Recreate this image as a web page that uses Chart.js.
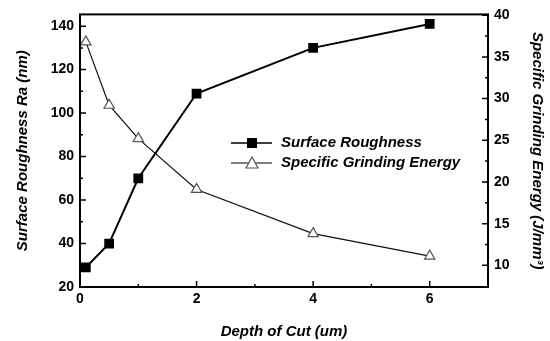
<!DOCTYPE html>
<html>
<head>
<meta charset="utf-8">
<script src="https://cdn.jsdelivr.net/npm/chart.js@4.4.0/dist/chart.umd.min.js"></script>
<style>
  html, body { margin: 0; padding: 0; background: #fff; }
  #wrap { width: 550px; height: 341px; }
</style>
</head>
<body>
<div id="wrap"><canvas id="chart" width="550" height="341"></canvas></div>
<script>
// data
const depthOfCut = [0.1, 0.5, 1, 2, 4, 6];
const roughness = [29, 40, 70, 109, 130, 141];
const grindingEnergy = [36.8, 29.2, 25.2, 19.1, 13.8, 11.1];

const xTicks = [0, 2, 4, 6];
const xMinorTicks = [1, 3, 5];
const leftTicks = [20, 40, 60, 80, 100, 120, 140];
const leftMinorTicks = [30, 50, 70, 90, 110, 130];
const rightTicks = [10, 15, 20, 25, 30, 35, 40];
const rightMinorTicks = [12.5, 17.5, 22.5, 27.5, 32.5, 37.5];

const tickFont = { family: 'Liberation Sans, Arial, sans-serif', size: 14, weight: 'bold' };
const titleFont = { family: 'Liberation Sans, Arial, sans-serif', size: 15, weight: 'bold', style: 'italic' };

// box around the plot, inward ticks and the legend
const framePlugin = {
  id: 'frame',
  afterDatasetsDraw(chart) {
    const ctx = chart.ctx;
    const a = chart.chartArea;
    const sx = chart.scales.x, sl = chart.scales.yL, sr = chart.scales.yR;
    ctx.save();
    ctx.strokeStyle = '#000';
    ctx.lineWidth = 2;
    ctx.strokeRect(a.left, a.top, a.right - a.left, a.bottom - a.top);

    ctx.lineWidth = 1.5;
    ctx.beginPath();
    xTicks.forEach(v => { const p = sx.getPixelForValue(v); ctx.moveTo(p, a.bottom); ctx.lineTo(p, a.bottom - 6); });
    xMinorTicks.forEach(v => { const p = sx.getPixelForValue(v); ctx.moveTo(p, a.bottom); ctx.lineTo(p, a.bottom - 3); });
    leftTicks.forEach(v => { const p = sl.getPixelForValue(v); ctx.moveTo(a.left, p); ctx.lineTo(a.left + 6, p); });
    leftMinorTicks.forEach(v => { const p = sl.getPixelForValue(v); ctx.moveTo(a.left, p); ctx.lineTo(a.left + 3, p); });
    rightTicks.forEach(v => { const p = sr.getPixelForValue(v); ctx.moveTo(a.right, p); ctx.lineTo(a.right - 6, p); });
    rightMinorTicks.forEach(v => { const p = sr.getPixelForValue(v); ctx.moveTo(a.right, p); ctx.lineTo(a.right - 3, p); });
    ctx.stroke();

    // legend
    const rows = [
      { y: 143, text: 'Surface Roughness', ds: 0 },
      { y: 163, text: 'Specific Grinding Energy', ds: 1 }
    ];
    ctx.font = 'italic bold 15px "Liberation Sans", Arial, sans-serif';
    ctx.textBaseline = 'middle';
    rows.forEach(r => {
      ctx.strokeStyle = '#000';
      ctx.lineWidth = r.ds === 0 ? 1.5 : 1;
      ctx.beginPath();
      ctx.moveTo(231, r.y);
      ctx.lineTo(272, r.y);
      ctx.stroke();
      if (r.ds === 0) {
        ctx.fillStyle = '#000';
        ctx.fillRect(247, r.y - 5, 10, 10);
      } else {
        ctx.fillStyle = '#fff';
        ctx.strokeStyle = '#555';
        ctx.lineWidth = 1.2;
        ctx.beginPath();
        ctx.moveTo(252, r.y - 6);
        ctx.lineTo(258, r.y + 5);
        ctx.lineTo(246, r.y + 5);
        ctx.closePath();
        ctx.fill();
        ctx.stroke();
      }
      ctx.fillStyle = '#000';
      ctx.fillText(r.text, 281, r.y);
    });
    ctx.restore();
  }
};

new Chart(document.getElementById('chart').getContext('2d'), {
  type: 'line',
  data: {
    datasets: [
      {
        label: 'Surface Roughness',
        data: depthOfCut.map((x, i) => ({ x: x, y: roughness[i] })),
        yAxisID: 'yL',
        borderColor: '#000',
        borderWidth: 2,
        pointStyle: 'rect',
        pointRadius: 5.5,
        pointBackgroundColor: '#000',
        pointBorderColor: '#000',
        tension: 0
      },
      {
        label: 'Specific Grinding Energy',
        data: depthOfCut.map((x, i) => ({ x: x, y: grindingEnergy[i] })),
        yAxisID: 'yR',
        borderColor: '#111',
        borderWidth: 1.2,
        pointStyle: 'triangle',
        pointRadius: 6,
        pointBackgroundColor: '#fff',
        pointBorderColor: '#555',
        pointBorderWidth: 1.2,
        tension: 0
      }
    ]
  },
  options: {
    responsive: false,
    animation: false,
    layout: { padding: { top: 9, left: 0, right: 0, bottom: 0 } },
    plugins: { legend: { display: false }, tooltip: { enabled: false } },
    scales: {
      x: {
        type: 'linear',
        min: 0, max: 7,
        afterBuildTicks: s => { s.ticks = xTicks.map(v => ({ value: v })); },
        afterFit: s => { s.height = 54; },
        grid: { display: false, drawTicks: false },
        border: { display: false },
        ticks: { color: '#000', font: tickFont, padding: 4 },
        title: { display: true, text: 'Depth of Cut (um)', color: '#000', font: titleFont, padding: { top: 6, bottom: 0 } }
      },
      yL: {
        position: 'left',
        min: 20, max: 145.4,
        afterBuildTicks: s => { s.ticks = leftTicks.map(v => ({ value: v })); },
        afterFit: s => { s.width = 80; },
        grid: { display: false, drawTicks: false },
        border: { display: false },
        ticks: { color: '#000', font: tickFont, padding: 6 },
        title: { display: true, text: 'Surface Roughness Ra (nm)', color: '#000', font: titleFont, padding: { top: 14, bottom: 4 } }
      },
      yR: {
        position: 'right',
        min: 7.4, max: 40.1,
        afterBuildTicks: s => { s.ticks = rightTicks.map(v => ({ value: v })); },
        afterFit: s => { s.width = 62; },
        grid: { display: false, drawTicks: false },
        border: { display: false },
        ticks: { color: '#000', font: tickFont, padding: 6 },
        title: { display: true, text: 'Specific Grinding Energy (J/mm³)', color: '#000', font: titleFont, padding: { top: 4, bottom: 0 } }
      }
    }
  },
  plugins: [framePlugin]
});
</script>
</body>
</html>
